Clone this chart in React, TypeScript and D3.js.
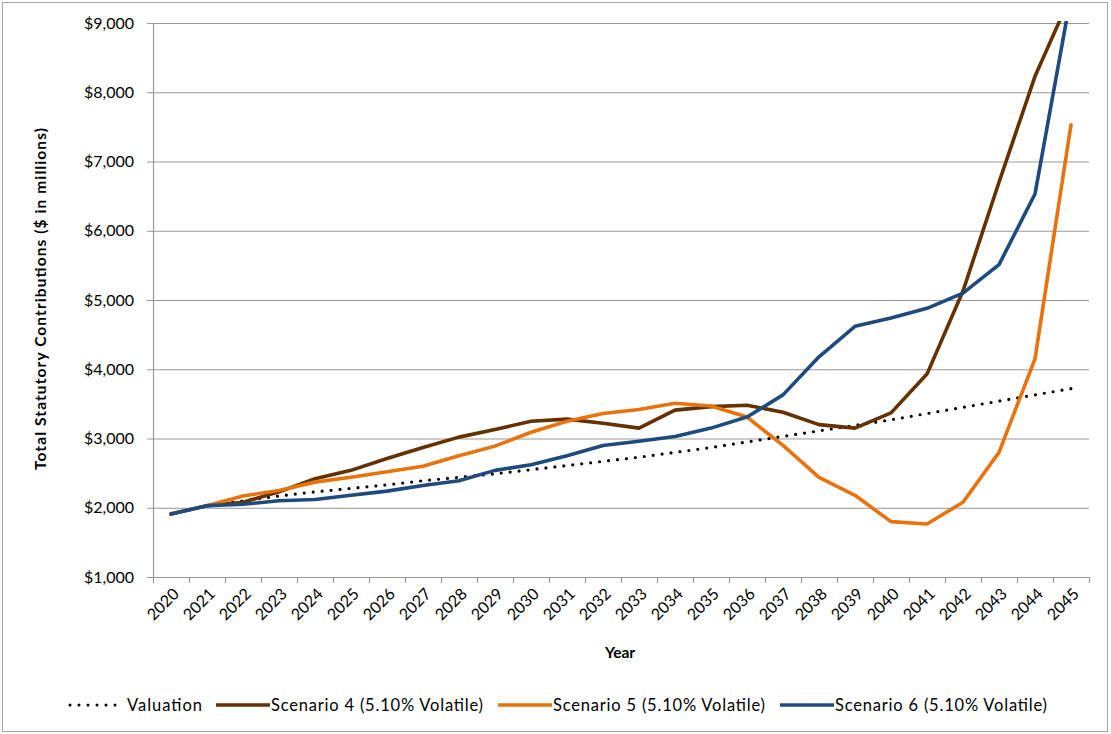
import React from 'react';
import * as d3 from 'd3';

const years = d3.range(2020, 2046).map(String);

const valuation = [1910, 2030, 2100, 2170, 2230, 2280, 2330, 2390, 2440, 2490, 2550, 2610, 2670, 2730, 2800, 2870, 2950, 3030, 3110, 3190, 3270, 3360, 3450, 3540, 3630, 3720];
const scenario4 = [1910, 2030, 2080, 2230, 2420, 2540, 2710, 2870, 3020, 3130, 3250, 3280, 3220, 3150, 3410, 3460, 3480, 3380, 3200, 3150, 3370, 3930, 5130, 6700, 8230, 9400];
const scenario5 = [1910, 2030, 2170, 2250, 2370, 2440, 2520, 2600, 2750, 2890, 3090, 3250, 3360, 3420, 3510, 3470, 3310, 2900, 2440, 2180, 1800, 1765, 2080, 2800, 4150, 7530];
const scenario6 = [1910, 2030, 2050, 2100, 2120, 2180, 2240, 2320, 2390, 2540, 2620, 2750, 2900, 2960, 3030, 3150, 3310, 3630, 4180, 4620, 4740, 4880, 5100, 5510, 6530, 9400];

const yTicks = [1000, 2000, 3000, 4000, 5000, 6000, 7000, 8000, 9000];

const series = [
    { name: 'Valuation', values: valuation, color: '#000000', dotted: true },
    { name: 'Scenario 4 (5.10% Volatile)', values: scenario4, color: '#633200', dotted: false },
    { name: 'Scenario 5 (5.10% Volatile)', values: scenario5, color: '#E8720C', dotted: false },
    { name: 'Scenario 6 (5.10% Volatile)', values: scenario6, color: '#1F4A7E', dotted: false },
];

const W = 1111;
const H = 734;
const margin = { left: 153, right: 1089, top: 23, bottom: 577 };
const font = 'Lato, "Open Sans", sans-serif';

const App: React.FC = () => {
    const x = d3.scaleBand<string>()
        .domain(years)
        .range([margin.left, margin.right]);

    const y = d3.scaleLinear()
        .domain([1000, 9000])
        .range([margin.bottom, margin.top]);

    const line = d3.line<number>()
        .x((_, i) => (x(years[i]) as number) + x.bandwidth() / 2)
        .y(d => y(d));

    const fmt = (v: number) => '$' + d3.format(',')(v);

    const tickXs = years.map(yr => x(yr) as number).concat([margin.right]);

    // legend layout: sample start, sample end, text start, text width
    const legendItems = [
        { x1: 70, x2: 120, textX: 127, len: 75 },
        { x1: 216, x2: 270, textX: 271, len: 212 },
        { x1: 498, x2: 552, textX: 553, len: 212 },
        { x1: 780, x2: 834, textX: 835, len: 212 },
    ];

    return (
        <svg width={W} height={H} style={{ position: 'absolute', left: 0, top: 0 }} fontFamily={font}>
            <rect x={0} y={0} width={W} height={H} fill="#fff" />
            <rect x={2.5} y={2.5} width={1105} height={729} fill="none" stroke="#a6a6a6" strokeWidth={1} />
            <defs>
                <clipPath id="plot-clip">
                    <rect x={margin.left} y={margin.top - 2} width={margin.right - margin.left + 10} height={margin.bottom - margin.top + 2} />
                </clipPath>
            </defs>

            {/* gridlines + y labels */}
            {yTicks.map(t => (
                <g key={t}>
                    <line x1={margin.left - 6} x2={margin.right} y1={y(t) + 0.5} y2={y(t) + 0.5}
                        stroke="#999" strokeWidth={1.2} />
                    <text x={134} y={y(t)} dy="0.35em" textAnchor="end" fontSize={16} fill="#000">{fmt(t)}</text>
                </g>
            ))}

            {/* y axis line */}
            <line x1={margin.left + 0.5} x2={margin.left + 0.5} y1={margin.top} y2={margin.bottom}
                stroke="#999" strokeWidth={1.2} />

            {/* x ticks */}
            {tickXs.map((tx, i) => (
                <line key={i} x1={tx + 0.5} x2={tx + 0.5} y1={margin.bottom} y2={margin.bottom + 6}
                    stroke="#999" strokeWidth={1.2} />
            ))}
            {years.map(yr => {
                const cx = (x(yr) as number) + x.bandwidth() / 2 + 5;
                const cy = margin.bottom + 14;
                return (
                    <text key={yr} x={cx} y={cy} textAnchor="end" fontSize={16}
                        transform={`rotate(-45, ${cx}, ${cy})`} dy="0.35em">{yr}</text>
                );
            })}

            {/* series */}
            <g clipPath="url(#plot-clip)">
                {series.map(s => (
                    <path key={s.name} d={line(s.values) as string} fill="none" stroke={s.color}
                        strokeWidth={s.dotted ? 3.2 : 3.6}
                        strokeDasharray={s.dotted ? '0 9' : undefined}
                        strokeLinecap="round" strokeLinejoin="round" />
                ))}
            </g>

            {/* axis titles */}
            <text x={620} y={653} dy="0.35em" textAnchor="middle" fontSize={15.5} fontWeight="bold">Year</text>
            <text x={0} y={0} transform="translate(41, 299) rotate(-90)" textAnchor="middle"
                dy="0.35em" fontSize={15.5} fontWeight="bold" textLength={342} lengthAdjust="spacing">
                Total Statutory Contributions ($ in millions)
            </text>

            {/* legend */}
            {series.map((s, i) => (
                <g key={s.name}>
                    <line x1={legendItems[i].x1} x2={legendItems[i].x2} y1={705} y2={705}
                        stroke={s.color} strokeWidth={s.dotted ? 3 : 3.6}
                        strokeDasharray={s.dotted ? '0 9' : undefined}
                        strokeLinecap={s.dotted ? 'round' : 'butt'} />
                    <text x={legendItems[i].textX} y={705} dy="0.35em" fontSize={16.5}
                        textLength={legendItems[i].len} lengthAdjust="spacing">{s.name}</text>
                </g>
            ))}
        </svg>
    );
};

export default App;
